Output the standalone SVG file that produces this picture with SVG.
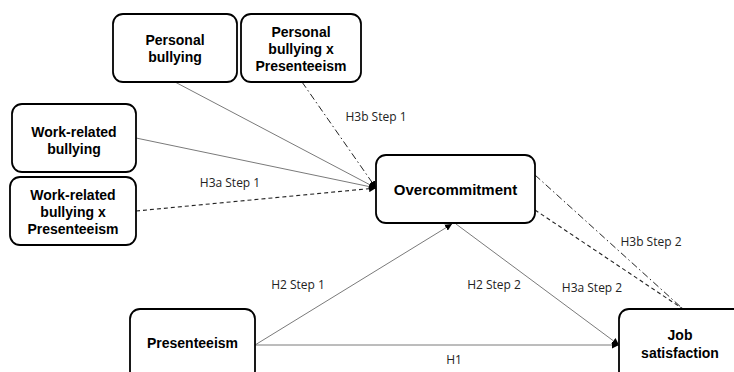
<svg xmlns="http://www.w3.org/2000/svg" width="734" height="372" viewBox="0 0 734 372">
<style>
.box{fill:#fff;stroke:#000;stroke-width:1.8}
.t{font-family:"Liberation Sans",Arial,sans-serif;font-weight:bold;font-size:14px;fill:#000;text-anchor:middle}
.lbl{font-family:"Open Sans","Liberation Sans",sans-serif;font-size:12px;fill:#222;text-anchor:middle}
.solid{stroke:#7a7a7a;stroke-width:1;fill:none}
.dash{stroke:#222;stroke-width:1.1;fill:none;stroke-dasharray:4 3}
.dashdot{stroke:#222;stroke-width:1;fill:none;stroke-dasharray:7 3 1.5 3}
</style>
<defs>
<marker id="ah" viewBox="0 0 10 10" refX="10" refY="5" markerWidth="7" markerHeight="7" orient="auto" markerUnits="userSpaceOnUse">
<path d="M0,0 L10,5 L0,10 z" fill="#000"/>
</marker>
</defs>
<g id="connectors">
<line class="solid" x1="175" y1="82" x2="376" y2="188" marker-end="url(#ah)"/>
<line class="dashdot" x1="302" y1="82" x2="376" y2="188" marker-end="url(#ah)"/>
<line class="solid" x1="136" y1="138" x2="376" y2="188" marker-end="url(#ah)"/>
<line class="dash" x1="136" y1="211" x2="376" y2="188" marker-end="url(#ah)"/>
<line class="solid" x1="255" y1="345" x2="452" y2="224" marker-end="url(#ah)"/>
<line class="solid" x1="456" y1="224" x2="619" y2="345" marker-end="url(#ah)"/>
<line class="solid" x1="255" y1="345" x2="619" y2="345" marker-end="url(#ah)"/>
<line class="dashdot" x1="535" y1="175" x2="683" y2="309"/>
<line class="dash" x1="535" y1="210" x2="683" y2="309"/>
<text class="lbl" x="376" y="121">H3b Step 1</text>
<text class="lbl" x="230" y="187">H3a Step 1</text>
<text class="lbl" x="298" y="289">H2 Step 1</text>
<text class="lbl" x="494" y="289">H2 Step 2</text>
<text class="lbl" x="592" y="292">H3a Step 2</text>
<text class="lbl" x="651" y="246">H3b Step 2</text>
<text class="lbl" x="454" y="364">H1</text>
</g>
<g id="personal-bullying">
<rect class="box" x="113" y="14" width="124" height="68" rx="10"/>
<text class="t" x="175" y="45">Personal</text>
<text class="t" x="175" y="62">bullying</text>
</g>
<g id="personal-bullying-x-presenteeism">
<rect class="box" x="241" y="14" width="120" height="68" rx="10"/>
<text class="t" x="301" y="37">Personal</text>
<text class="t" x="301" y="54">bullying x</text>
<text class="t" x="301" y="71">Presenteeism</text>
</g>
<g id="work-related-bullying">
<rect class="box" x="12" y="104" width="124" height="68" rx="10"/>
<text class="t" x="74" y="137">Work-related</text>
<text class="t" x="74" y="154">bullying</text>
</g>
<g id="work-related-bullying-x-presenteeism">
<rect class="box" x="10" y="177" width="126" height="68" rx="10"/>
<text class="t" x="73" y="200">Work-related</text>
<text class="t" x="73" y="217">bullying x</text>
<text class="t" x="73" y="234">Presenteeism</text>
</g>
<g id="overcommitment">
<rect class="box" x="376" y="155" width="159" height="68" rx="10"/>
<text class="t" x="455.5" y="195" style="font-size:15px">Overcommitment</text>
</g>
<g id="presenteeism">
<rect class="box" x="130" y="309" width="125" height="72" rx="10"/>
<text class="t" x="192.5" y="348">Presenteeism</text>
</g>
<g id="job-satisfaction">
<rect class="box" x="619" y="309" width="130" height="72" rx="10"/>
<text class="t" x="680" y="340">Job</text>
<text class="t" x="680" y="358">satisfaction</text>
</g>
</svg>
